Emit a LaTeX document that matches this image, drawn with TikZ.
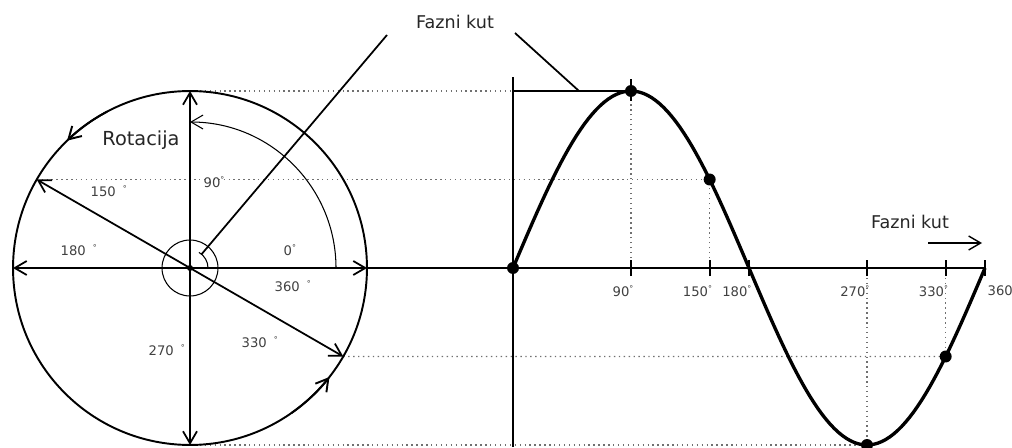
\documentclass[tikz,border=0pt]{standalone}
\usepackage{fontspec}
\setmainfont{DejaVu Sans}
\usetikzlibrary{arrows.meta}
\definecolor{cgrey}{HTML}{404040}
\definecolor{cdot}{HTML}{707070}
\newcommand{\dg}{\raisebox{.7ex}{\fontsize{4.5}{5}\selectfont °}}
\tikzset{
  every picture/.style={line width=1pt},
  barb/.style={-{Straight Barb[length=2.4mm, width=2.8mm]}},
  proj/.style={draw=cdot, line width=0.8pt, dotted},
  wave/.style={line width=1.9pt},
  dot/.style={circle, fill=black, inner sep=0pt, minimum size=2.4mm},
  deg/.style={font=\fontsize{7.5}{9}\selectfont, text=cgrey, inner sep=1pt},
  lab/.style={font=\fontsize{10}{12}\selectfont, text=black!85},
}

\begin{document}
\begin{tikzpicture}[x=0.02cm, y=0.02cm]
  \useasboundingbox (0,0) rectangle (1012,447);
  \coordinate (O) at (190,179);
  \foreach \a in {0,90,150,180,270,330} {
    \path (O) ++(\a:177) coordinate (c\a);
    \coordinate (a\a) at ({513+\a*1.3111},179);
    \coordinate (s\a) at ({513+\a*1.3111},{179+177*sin(\a)});
  }
  \coordinate (a360) at (985,179);
  \coordinate (yb) at (513,0);
  \coordinate (yt) at (513,370);
  \coordinate (ph) at (s0 |- s90);
  % projections
  \draw[proj] (c90) -- (ph);
  \foreach \a in {150,270,330} \draw[proj] (c\a) -- (s\a);
  \foreach \a in {90,150,270,330} \draw[proj] (a\a) -- (s\a);
  % circle
  \draw[line width=1.1pt] (O) circle[radius=3.54cm];
  \draw[line width=0.6pt] (O) circle[radius=0.56cm];
  \path (O) ++(0:18) coordinate (q0);
  \path (O) ++(50:18) coordinate (q50);
  \draw[line width=0.6pt] (q0) arc[start angle=0, end angle=60, radius=0.36cm];
  \path (O) ++(0:146) coordinate (r0);
  \draw[barb, line width=0.6pt] (r0) arc[start angle=0, end angle=90, radius=2.92cm];
  \draw[barb, line width=1.1pt] (O) ++(118:177) arc[start angle=118, end angle=134, radius=3.54cm];
  \draw[barb, line width=1.1pt] (O) ++(305:177) arc[start angle=305, end angle=322, radius=3.54cm];
  \foreach \a in {0,90,150,180,270,330} \draw[barb] (O) -- (c\a);
  % axes
  \draw (c0) -- (a360);
  \draw (yb) -- (yt);
  \foreach \a in {90,150,180,270,330,360} \draw (a\a) ++(0,-8) -- ++(0,16);
  \draw (s90) ++(0,-10) -- ++(0,22);
  \draw (ph) -- (s90);
  \draw[wave] plot[domain=0:360, samples=120] ({513+\x*1.3111},{179+177*sin(\x)});
  \foreach \a in {0,90,150,270,330} \node[dot] (d\a) at (s\a) {};
  \node[dot, minimum size=1.2mm] (dO) at (O) {};
  % labels
  \node[lab] (fk) at (455,425) {Fazni kut};
  \coordinate (l1) at (387,412);
  \coordinate (l2) at (515,414);
  \coordinate (l2e) at (579,356);
  \draw (l1) -- (q50);
  \draw (l2) -- (l2e);
  \node[lab, font=\fontsize{11}{13}\selectfont] (rot) at (141,307) {Rotacija};
  \node[lab] (fk2) at (910,225) {Fazni kut};
  \coordinate (fa) at (928,204);
  \coordinate (fb) at (982,204);
  \draw[barb, line width=0.8pt] (fa) -- (fb);
  \foreach \t/\x/\y/\n in {150/88/256/l150, 180/58/197/l180, 270/146/97/l270, 330/239/105/l330, 360/272/161/l360} {
    \node[deg, anchor=west] (\n) at (\x,\y) {\t\hspace{4pt}\dg};
  }
  \node[deg, anchor=west] (l90) at (201,265) {90\dg};
  \node[deg, anchor=west] (l0) at (281,197) {0\dg};
  \foreach \a in {90,150,180,270,330} {
    \node[deg, anchor=north east] (t\a) at ([shift={(5,-15)}]a\a) {\a\dg};
  }
  \node[deg, anchor=north west] (t360) at ([shift={(0,-15)}]a360) {360};
\end{tikzpicture}
\end{document}
